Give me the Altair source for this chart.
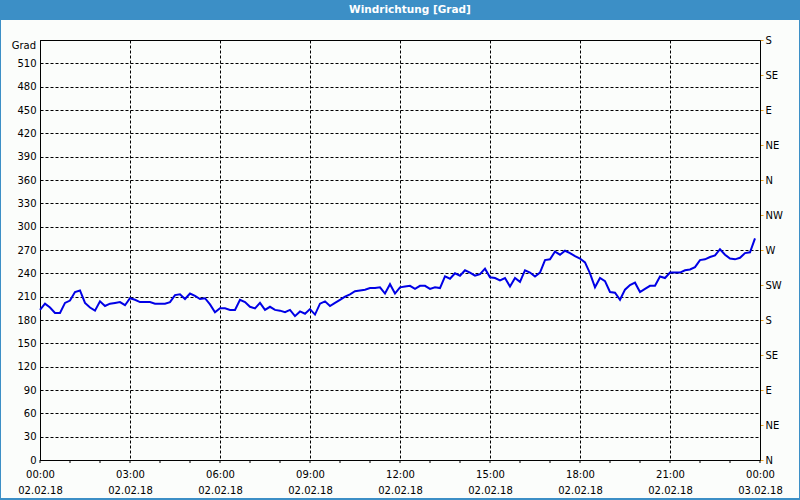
import altair as alt
import pandas as pd

# wind direction in degrees, every 10 minutes from 00:00 (02.02.18) to 23:50
values = [
    193, 201, 196, 189, 189, 202, 205, 216, 218, 202, 196, 192,
    204, 198, 201, 202, 203, 199, 208, 206, 203, 203, 203, 201,
    201, 201, 203, 212, 213, 207, 214, 211, 207, 208, 200, 190,
    195, 195, 193, 193, 206, 203, 197, 195, 202, 193, 197, 193,
    192, 190, 193, 185, 191, 188, 194, 187, 201, 204, 198, 202,
    206, 210, 213, 217, 218, 219, 221, 221, 222, 214, 226, 214,
    222, 223, 224, 220, 224, 224, 220, 222, 221, 236, 233, 240,
    237, 244, 241, 237, 239, 246, 235, 234, 231, 234, 223, 234,
    229, 244, 241, 236, 241, 257, 258, 268, 264, 269, 266, 262,
    259, 254, 240, 222, 234, 230, 216, 215, 206, 219, 225, 228,
    216, 220, 224, 224, 236, 234, 241, 241, 241, 244, 245, 248,
    257, 258, 261, 263, 271, 264, 259, 258, 260, 266, 267, 285,
]
hours = [i / 6 for i in range(len(values))]

time_labels = ["00:00", "03:00", "06:00", "09:00", "12:00", "15:00", "18:00", "21:00", "00:00"]
date_labels = ["02.02.18"] * 8 + ["03.02.18"]
major_hours = [0, 3, 6, 9, 12, 15, 18, 21, 24]
minor_hours = list(range(0, 25))
left_ticks = list(range(0, 541, 30))
right_ticks = list(range(0, 541, 45))
compass = ["N", "NE", "E", "SE", "S", "SW", "W", "NW", "N", "NE", "E", "SE", "S"]
title_text = "Windrichtung [Grad]"
unit_text = "Grad"

FONT = "DejaVu Sans"
BLUE = "#3C8FC6"

df = pd.DataFrame({"h": hours, "v": values})
ticks_df = pd.DataFrame({"h": minor_hours})

tl = "[" + ",".join(f"'{t}'" for t in time_labels) + "]"
dl = "[" + ",".join(f"'{d}'" for d in date_labels) + "]"
cl = "[" + ",".join(f"'{c}'" for c in compass) + "]"

xscale = alt.Scale(domain=[0, 24], nice=False, zero=False)
yscale = alt.Scale(domain=[0, 540], nice=False)

xaxis = alt.Axis(
    values=major_hours, title=None, grid=True, gridColor="black", gridDash=[3, 2],
    gridWidth=1, ticks=False, domainColor="black", labelPadding=9,
    labelExpr=f"[{tl}[round(datum.value/3)], {dl}[round(datum.value/3)]]",
    labelLineHeight=16, labelFont=FONT, labelFontSize=10, labelColor="black",
    labelAngle=0, labelBaseline="top", labelFlush=False,
)

x_enc = alt.X("h:Q", scale=xscale, axis=xaxis)

line = alt.Chart(df).mark_line(color="#0000E6", strokeWidth=2).encode(
    x=x_enc,
    y=alt.Y("v:Q", scale=yscale, axis=alt.Axis(
        values=left_ticks, title=None, grid=True, gridColor="black", gridDash=[3, 2],
        ticks=False, domainColor="black", labelPadding=4,
        labelExpr="datum.value >= 540 ? '' : datum.label",
        labelFont=FONT, labelFontSize=10, labelColor="black", orient="left",
    )),
)

right = alt.Chart(df).mark_line(opacity=0).encode(
    x=x_enc,
    y=alt.Y("v:Q", scale=yscale, axis=alt.Axis(
        values=right_ticks, title=None, grid=False, orient="right",
        tickColor="#E8A020", tickSize=3, domainColor="black", labelPadding=2,
        labelExpr=f"{cl}[round(datum.value/45)]",
        labelFont=FONT, labelFontSize=10, labelColor="black",
    )),
)

minor = alt.Chart(ticks_df).mark_rule(color="black", strokeWidth=1).encode(
    x=x_enc,
    y=alt.value(420),
    y2=alt.value(423),
)

single = alt.Data(values=[{"t": title_text, "u": unit_text}])

bar = alt.Chart(single).mark_rect(color=BLUE).encode(
    x=alt.value(-40), x2=alt.value(760), y=alt.value(-40), y2=alt.value(-20)
)
border = alt.Chart(single).mark_rect(fillOpacity=0, stroke=BLUE, strokeWidth=2).encode(
    x=alt.value(-40), x2=alt.value(760), y=alt.value(-40), y2=alt.value(459)
)
title = alt.Chart(single).mark_text(
    color="white", font=FONT, fontSize=10.5, fontWeight="bold", align="center", baseline="middle"
).encode(x=alt.value(370), y=alt.value(-30), text="t:N")
unit = alt.Chart(single).mark_text(
    color="black", font=FONT, fontSize=10, align="right", baseline="middle"
).encode(x=alt.value(-4), y=alt.value(6), text="u:N")

chart = alt.layer(bar, border, title, unit, minor, line, right).resolve_axis(
    y="independent"
).properties(
    width=720, height=420,
    autosize=alt.AutoSizeParams(type="none"),
    padding={"left": 40, "top": 40, "right": 40, "bottom": 40},
    background="#FBFDFB",
).configure_view(stroke="black", strokeWidth=1)

chart.save("out.html", embed_options={"renderer": "svg", "actions": False})
